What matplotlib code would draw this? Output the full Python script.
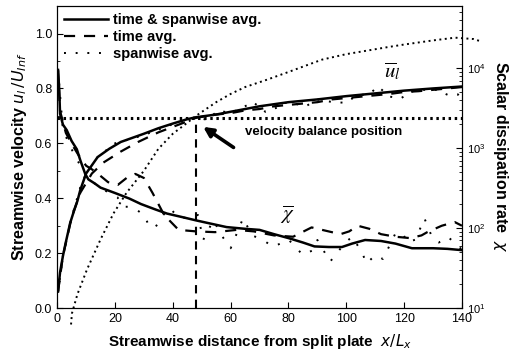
import matplotlib
matplotlib.use('Agg')
import matplotlib.pyplot as plt
import numpy as np

plt.rcParams['font.family'] = ['Liberation Sans', 'DejaVu Sans']

# streamwise velocity u_l/U_inf
x_u = [0.3, 1, 2, 3, 4.5, 6, 7, 8, 9, 10, 12, 14, 16, 18, 22, 26, 30, 35, 40, 45, 48,
       55, 60, 70, 80, 90, 100, 110, 120, 130, 140]
u_avg = [0.06, 0.13, 0.19, 0.24, 0.31, 0.36, 0.39, 0.43, 0.46, 0.49, 0.52, 0.55, 0.565, 0.58,
         0.605, 0.62, 0.635, 0.655, 0.672, 0.688, 0.695, 0.705, 0.715, 0.735, 0.75, 0.76,
         0.772, 0.782, 0.792, 0.80, 0.807]

x_ut = [0.3, 2, 5, 8, 12, 16, 22, 28, 35, 40, 45, 48, 55, 60, 65, 70, 75, 80, 85, 90, 95,
        100, 105, 110, 115, 120, 125, 130, 135, 140]
u_time = [0.06, 0.19, 0.33, 0.42, 0.49, 0.53, 0.57, 0.605, 0.64, 0.66, 0.68, 0.693, 0.705,
          0.71, 0.72, 0.725, 0.735, 0.74, 0.745, 0.75, 0.76, 0.765, 0.77, 0.775, 0.78, 0.787,
          0.79, 0.795, 0.80, 0.805]

x_us = [0.3, 2, 5, 8, 10, 14, 20, 25, 30, 35, 40, 45, 48, 52, 55.7, 60, 64, 67.8, 72, 76,
        78, 82, 86, 90, 95.4, 99.5, 104, 108, 111, 115, 119, 123, 127, 131, 135, 138.6, 140]
u_span = [0.06, 0.19, 0.33, 0.44, 0.49, 0.55, 0.60, 0.615, 0.63, 0.65, 0.67, 0.685, 0.693,
          0.686, 0.72, 0.71, 0.73, 0.75, 0.715, 0.73, 0.748, 0.745, 0.735, 0.76, 0.75, 0.748,
          0.775, 0.78, 0.807, 0.77, 0.765, 0.79, 0.795, 0.795, 0.777, 0.777, 0.80]

# rising dotted curve
x_rise = [4.8, 5.1, 7, 10.3, 15, 19.5, 24, 30, 35, 40, 45, 48, 55, 60, 65, 72.6, 80, 91.6,
          100, 114, 120, 130, 137.6, 144, 147]
u_rise = [-0.06, -0.02, 0.05, 0.14, 0.25, 0.345, 0.42, 0.50, 0.58, 0.635, 0.675, 0.70, 0.75,
          0.78, 0.805, 0.832, 0.86, 0.905, 0.925, 0.95, 0.96, 0.975, 0.985, 0.98, 0.97]

# scalar dissipation rate chi
x_c = [0.3, 0.7, 1, 2, 3.3, 5, 6.8, 8, 9.7, 10.8, 13, 15, 20, 25, 29, 34, 38, 43, 48, 53,
       58.6, 65, 70, 75, 80, 85, 89, 94, 98.5, 102, 106.5, 112, 117, 122.7, 130, 135, 140]
chi_avg = [9550, 5500, 2700, 1970, 1685, 1230, 970, 707, 477, 407, 362, 321, 275, 234, 200,
           171, 152, 138, 125, 114, 103, 98, 95, 84, 75, 66, 59, 58, 58, 64, 71, 69, 64, 56,
           56, 55, 53]

x_ct = [0.3, 1, 3, 5, 7.3, 10, 13, 17.6, 21, 24, 27, 30, 33, 37, 42, 48, 54.6, 62, 68, 75,
        81.6, 88, 95, 98, 101, 104, 108, 112, 117, 122, 126, 128, 133, 137.5, 140]
chi_time = [9550, 2920, 1556, 1135, 828, 604, 516, 376, 348, 424, 477, 424, 275, 146, 95, 91,
            89, 95, 91, 81, 78, 102, 89, 84, 91, 107, 98, 84, 78, 75, 81, 89, 107, 119, 107]

x_cs = [0.3, 2, 5, 8, 11, 15, 18, 20.8, 23, 26, 30, 32, 34, 36.7, 39, 42, 45, 48.7, 50.5,
        54, 57.5, 60, 64.3, 67.4, 71, 74.7, 80, 85, 88.5, 90, 94.4, 97, 99.5, 102, 105.4,
        107, 110, 112.7, 117, 119.6, 121, 124, 127, 129.6, 132, 135, 138.6, 140]
chi_span = [9550, 1685, 970, 604, 407, 321, 275, 244, 185, 185, 146, 103, 103, 146, 178, 135,
            135, 146, 71, 125, 75, 56, 133, 81, 72, 58, 72, 46, 53, 71, 38, 50, 65, 78, 50, 36,
            46, 41, 86, 86, 66, 72, 133, 78, 66, 78, 61, 53]

u_balance = 0.693
x_balance = 48

fig = plt.figure(figsize=(5.15, 3.59), dpi=100)
ax = fig.add_axes([0.111, 0.142, 0.786, 0.841])
ax2 = ax.twinx()

l1, = ax.plot(x_u, u_avg, color='k', lw=1.8, label='time & spanwise avg.')
l2, = ax.plot(x_ut, u_time, color='k', lw=1.6, ls=(0, (5, 4)), label='time avg.')
l3, = ax.plot(x_us, u_span, color='k', lw=1.4, ls=(0, (1, 5)), label='spanwise avg.')
ax.plot(x_rise, u_rise, color='k', lw=1.4, ls=(0, (1, 1.8)), clip_on=False)

ax2.plot(x_c, chi_avg, color='k', lw=1.8)
ax2.plot(x_ct, chi_time, color='k', lw=1.6, ls=(0, (5, 4)))
ax2.plot(x_cs, chi_span, color='k', lw=1.4, ls=(0, (1, 6)))

ax.axhline(u_balance, color='k', lw=2.2, ls=(0, (0.8, 1.2)), clip_on=False)
ax.plot([x_balance, x_balance], [0, u_balance], color='k', lw=1.5, ls=(0, (4, 3)))

ax.set_xlim(0, 140)
ax.set_ylim(0, 1.1)
ax2.set_yscale('log')
ax2.set_ylim(10, 6e4)

ax.set_xticks(np.arange(0, 141, 20))
ax.set_yticks(np.arange(0, 1.01, 0.2))
ax.set_yticks(np.arange(0.1, 1.1, 0.2), minor=True)
ax.tick_params(direction='in', labelsize=9, length=4)
ax.tick_params(which='minor', direction='in', length=2)
ax2.tick_params(direction='in', labelsize=8, length=4)
ax2.tick_params(which='minor', direction='in', length=2)
ax.yaxis.set_major_formatter(matplotlib.ticker.FormatStrFormatter('%.1f'))

ax.set_xlabel(r'Streamwise distance from split plate  $x/L_x$', fontsize=11,
              fontweight='bold', labelpad=5)
ax.set_ylabel(r'Streamwise velocity $u_l\,/U_{Inf}$', fontsize=11.5, fontweight='bold',
              labelpad=4)
ax2.set_ylabel(r'Scalar dissipation rate  $\chi$', fontsize=11.5, fontweight='bold',
               rotation=-90, labelpad=18)

ax.annotate('', xy=(50.5, 0.66), xytext=(61, 0.585),
            arrowprops=dict(arrowstyle='-|>', color='k', lw=2.6, mutation_scale=14,
                            shrinkA=0, shrinkB=0))
ax.text(65, 0.642, 'velocity balance position', fontsize=9.5, fontweight='bold',
        va='center')
ax.text(116, 0.84, r'$\overline{u}_l$', fontsize=15, math_fontfamily='stix', ha='center')
ax.text(79.5, 0.32, r'$\overline{\chi}$', fontsize=15, math_fontfamily='stix', ha='center')

leg = ax.legend(handles=[l1, l2, l3], loc='upper left', frameon=False,
                handlelength=3.0, handletextpad=0.3, labelspacing=0.2,
                borderaxespad=0.1, prop={'weight': 'bold', 'size': 10.5})

fig.savefig('out.png', dpi=100)
